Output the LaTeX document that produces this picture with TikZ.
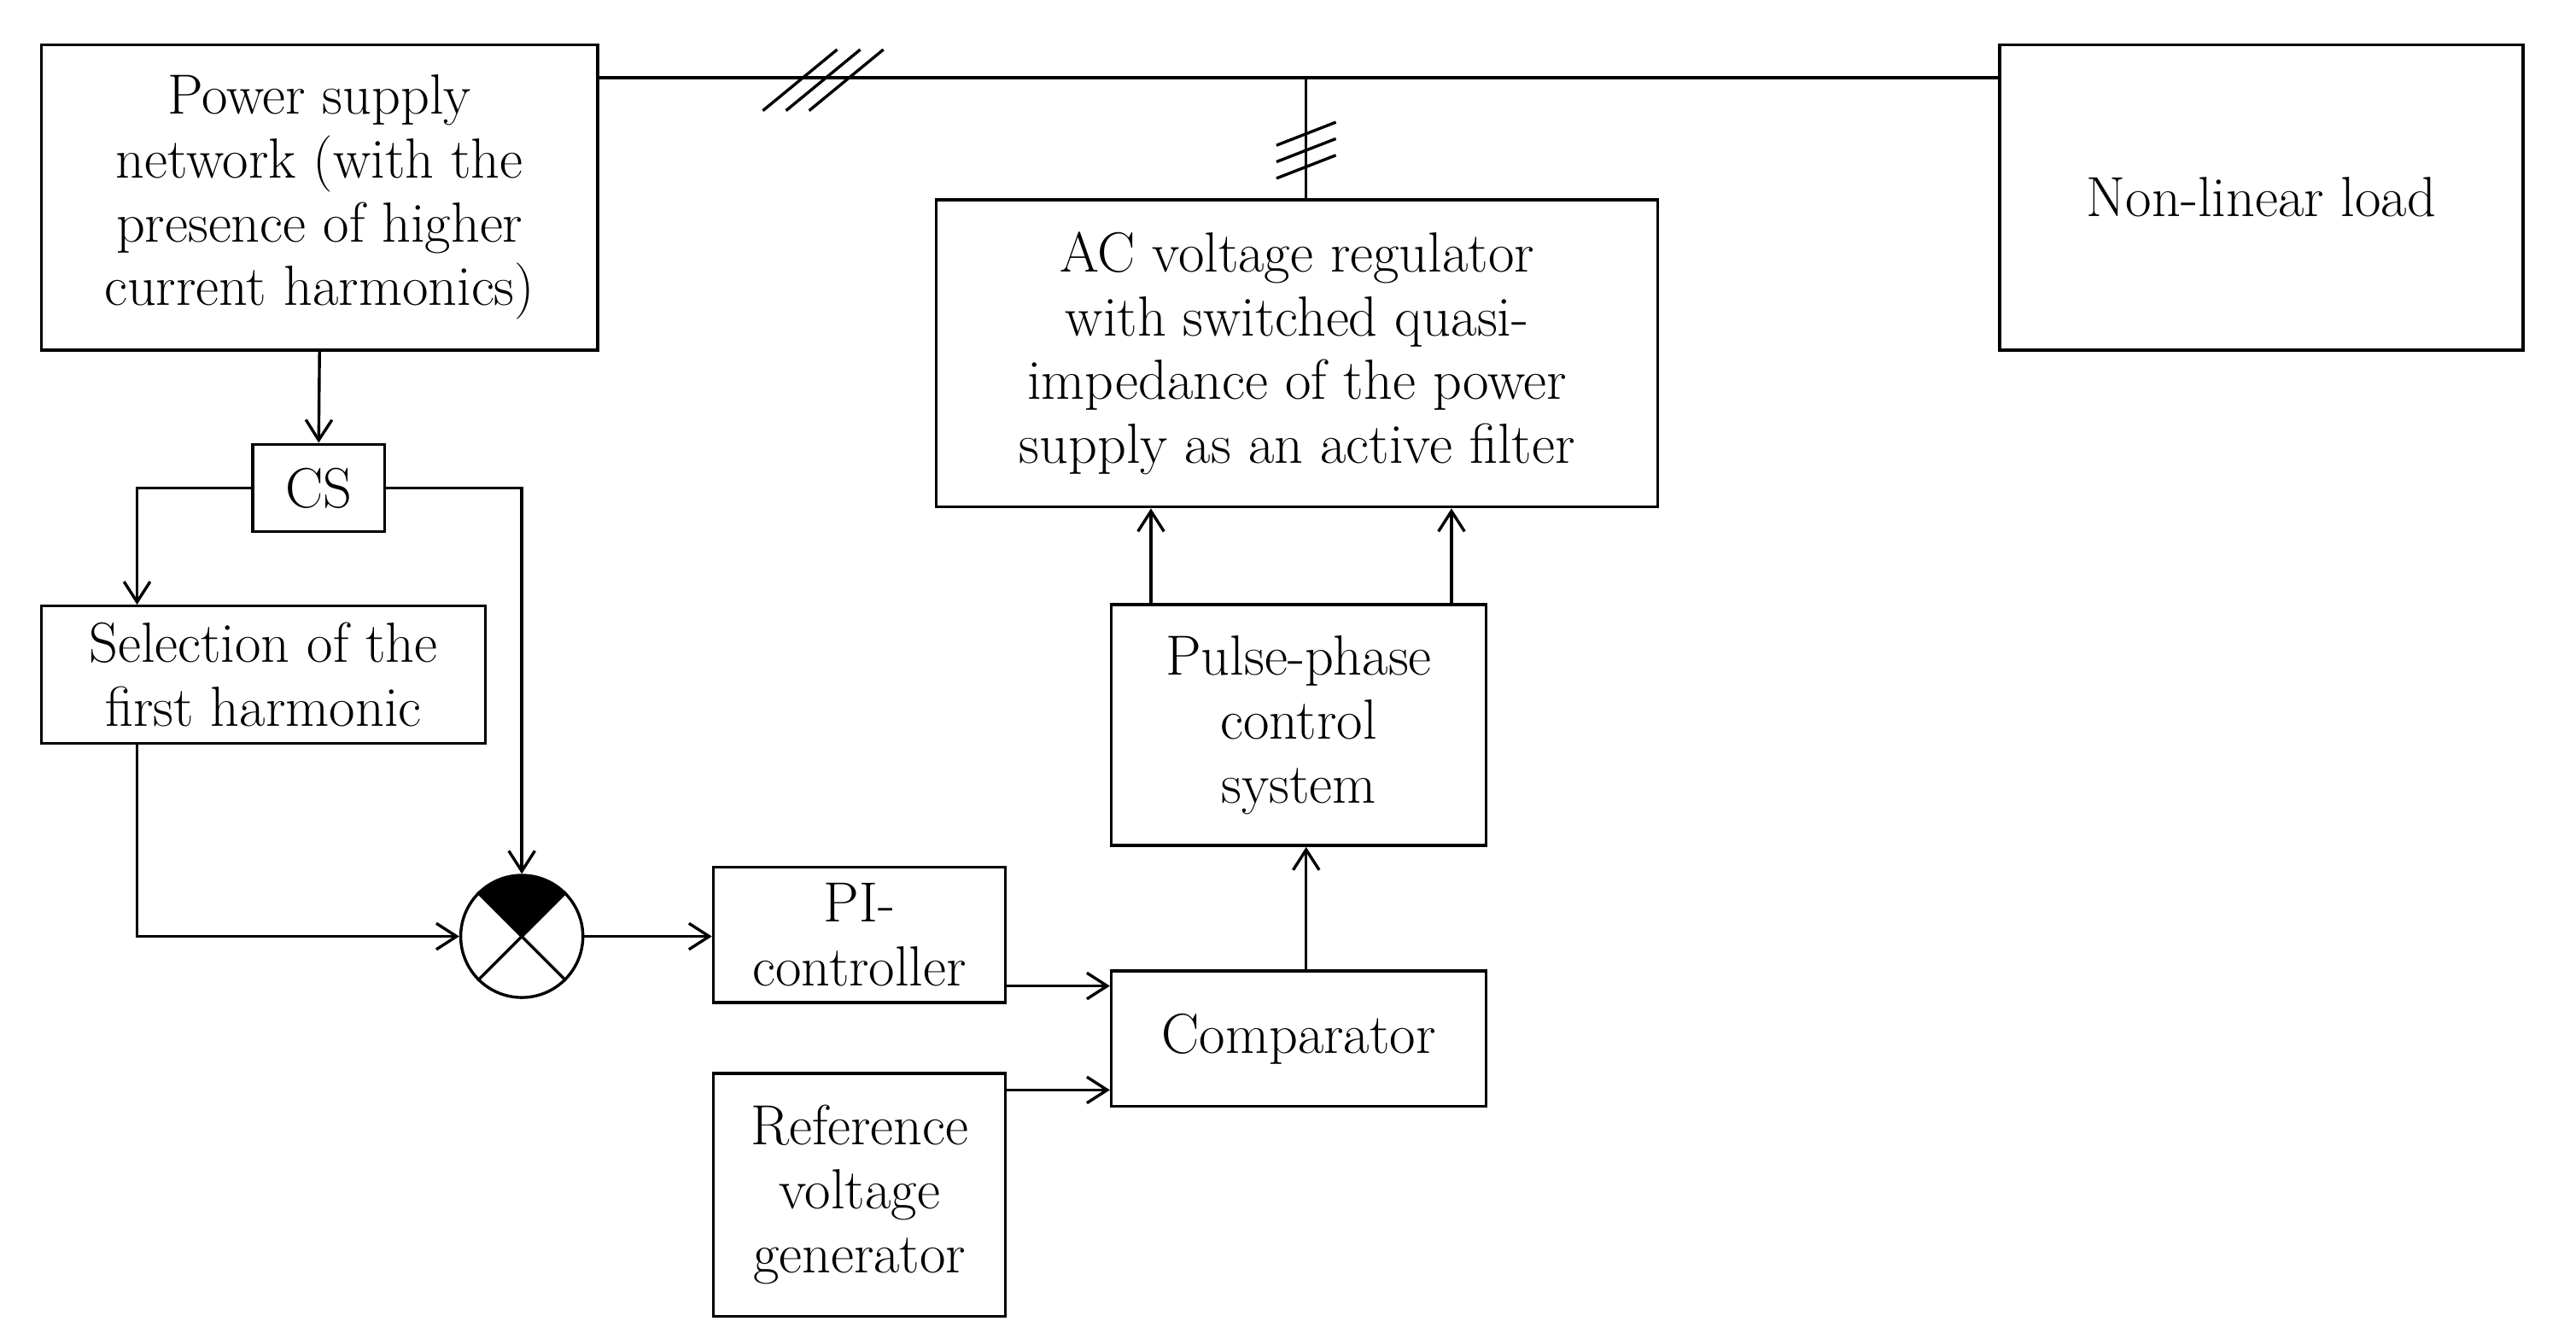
\documentclass[tikz,border=0pt]{standalone}
\usetikzlibrary{arrows.meta}
\begin{document}
\begin{tikzpicture}[x=0.02cm,y=-0.02cm,
  box/.style={draw,line width=1pt,inner sep=0pt,align=center,font=\fontsize{19.5}{22}\selectfont},
  ln/.style={line width=1pt},
  ar/.style={line width=1pt,-{Straight Barb[length=7pt,width=9pt]}}]
\useasboundingbox (0,0) rectangle (1560,807);
\node[box,minimum width=337*0.02cm,minimum height=185*0.02cm] (ps) at (193.5,119.5) {Power supply\\network (with the\\presence of higher\\current harmonics)};
\node[box,minimum width=317*0.02cm,minimum height=185*0.02cm] (nl) at (1369.5,119.5) {Non-linear load};
\node[box,minimum width=437*0.02cm,minimum height=186*0.02cm] (ac) at (785.5,214) {AC voltage regulator\\with switched quasi-\\impedance of the power\\supply as an active filter};
\node[box,minimum width=80*0.02cm,minimum height=53*0.02cm] (cs) at (193,295.5) {CS};
\node[box,minimum width=269*0.02cm,minimum height=83*0.02cm] (sel) at (159.5,408.5) {Selection of the\\first harmonic};
\node[box,minimum width=227*0.02cm,minimum height=146*0.02cm] (pp) at (786.5,439) {Pulse-phase\\control\\system};
\node[box,minimum width=177*0.02cm,minimum height=82*0.02cm] (pi) at (520.5,566) {PI-\\controller};
\node[box,minimum width=227*0.02cm,minimum height=82*0.02cm] (cmp) at (786.5,629) {Comparator};
\node[box,minimum width=177*0.02cm,minimum height=147*0.02cm] (ref) at (520.5,723.5) {Reference\\voltage\\generator};
% summing circle
\coordinate (c) at (316,567);
\fill (c) -- ++(-26.16,-26.16) arc[start angle=135,end angle=45,radius=0.74cm] -- cycle;
\node[draw,circle,line width=1pt,minimum size=1.48cm,inner sep=0pt] (sum) at (c) {};
\draw[ln] (sum.north east) -- (sum.south west) (sum.north west) -- (sum.south east);
% power lines
\draw[ln] (ps.east |- 0,47) coordinate (a1) -- (nl.west |- 0,47);
\foreach \d in {0,14,28} \draw[ln] (462+\d,67) -- (507+\d,30);
\coordinate (j) at (791,47);
\draw[ln] (j) -- (ac.north -| j);
\foreach \d in {0,10,20} \draw[ln] (773,88+\d) -- (809,74+\d);
% signal arrows
\draw[ar] (ps.south) -- (cs.north);
\draw[ar] (cs.west) -| (sel.north -| 83,0);
\draw[ar] (cs.east) -| (sum.north);
\draw[ar] (sel.south -| 83,0) |- (sum.west);
\draw[ar] (sum.east) -- (pi.west |- sum.east);
\draw[ar] (pi.east |- 0,597) -- (cmp.west |- 0,597);
\draw[ar] (ref.east |- 0,660) -- (cmp.west |- 0,660);
\draw[ar] (cmp.north -| 791,0) -- (pp.south -| 791,0);
\draw[ar] (pp.north -| 697,0) -- (ac.south -| 697,0);
\draw[ar] (pp.north -| 879,0) -- (ac.south -| 879,0);
\end{tikzpicture}
\end{document}
